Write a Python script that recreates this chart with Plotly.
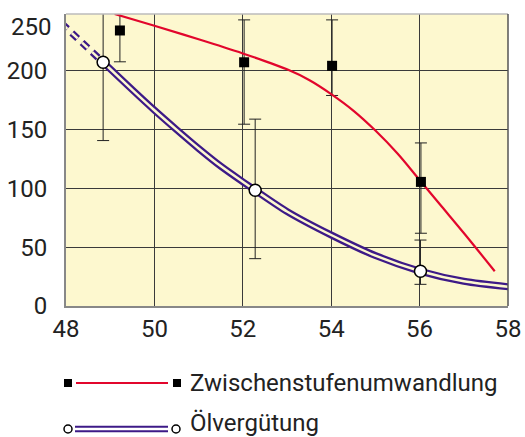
import plotly.graph_objects as go

# ---------------- data ----------------
zw_curve_x = [49.1, 50.0, 51.0, 52.0, 52.5, 53.0, 53.5, 54.0, 54.5, 55.0, 55.5, 56.0, 56.5, 57.0, 57.7]
zw_curve_y = [248, 238, 226.5, 214.5, 208, 201, 192, 180, 166, 149, 129.5, 107, 84.5, 62, 29.5]
zw_pts_x = [49.22, 52.03, 54.02, 56.03]
zw_pts_y = [234, 207, 204, 105.4]
zw_err_plus = [20, 36, 39, 33.1]
zw_err_minus = [26.6, 52.6, 25.2, 43.6]

oel_dash_x = [47.9, 48.84]
oel_dash_y = [240, 207]
oel_curve_x = [48.84, 49.5, 50.0, 50.5, 51.0, 51.5, 52.0, 52.28, 53.0, 54.0, 55.0, 56.02, 57.0, 58.1]
oel_curve_y = [207, 183.6, 166.3, 149.8, 133.8, 118.8, 105.5, 98.3, 80.3, 60.3, 42.8, 29.5, 21, 16]
oel_pts_x = [48.84, 52.28, 56.02]
oel_pts_y = [207, 98.3, 29.5]
oel_err_plus = [45, 60.4, 26.5]
oel_err_minus = [66.5, 58.1, 11.1]

x_ticks = [48, 50, 52, 54, 56, 58]
y_ticks = [0, 50, 100, 150, 200]
y_top_label = "250"
legend_names = ["Zwischenstufenumwandlung", "Ölvergütung"]

# ---------------- style ----------------
RED = "#e2062c"
PURPLE = "#3d1a87"
BG = "#fdf8cf"
GRID = "#3a3a3a"
FONT = "Roboto"
FS = 24

W, H = 525, 437
L, R, T, B = 66, 17, 14, 131
PW, PH = W - L - R, H - T - B


def px(xp):
    return (xp - L) / PW


def py(yp):
    return (H - B - yp) / PH


fig = go.Figure()

# error bars (drawn first)
fig.add_trace(go.Scatter(
    x=zw_pts_x, y=zw_pts_y, mode="markers", marker=dict(size=1, opacity=0),
    error_y=dict(type="data", symmetric=False, array=zw_err_plus, arrayminus=zw_err_minus,
                 color="#222", thickness=1, width=6), showlegend=False, hoverinfo="skip"))
fig.add_trace(go.Scatter(
    x=oel_pts_x, y=oel_pts_y, mode="markers", marker=dict(size=1, opacity=0),
    error_y=dict(type="data", symmetric=False, array=oel_err_plus, arrayminus=oel_err_minus,
                 color="#222", thickness=1, width=6), showlegend=False, hoverinfo="skip"))

# Ölvergütung double line
fig.add_trace(go.Scatter(x=oel_dash_x, y=oel_dash_y, mode="lines",
                         line=dict(color=PURPLE, width=7, dash="8px,6px"), showlegend=False))
fig.add_trace(go.Scatter(x=oel_dash_x, y=oel_dash_y, mode="lines",
                         line=dict(color=BG, width=2.5, dash="8px,6px"), showlegend=False))
fig.add_trace(go.Scatter(x=oel_curve_x, y=oel_curve_y, mode="lines",
                         line=dict(color=PURPLE, width=7, shape="spline", smoothing=0.8), showlegend=False))
fig.add_trace(go.Scatter(x=oel_curve_x, y=oel_curve_y, mode="lines",
                         line=dict(color=BG, width=2.5, shape="spline", smoothing=0.8), showlegend=False))

# Zwischenstufenumwandlung curve
fig.add_trace(go.Scatter(x=zw_curve_x, y=zw_curve_y, mode="lines",
                         line=dict(color=RED, width=2.2, shape="spline", smoothing=1.0), showlegend=False))

# markers
fig.add_trace(go.Scatter(x=zw_pts_x, y=zw_pts_y, mode="markers",
                         marker=dict(symbol="square", size=10, color="black"), showlegend=False))
fig.add_trace(go.Scatter(x=oel_pts_x, y=oel_pts_y, mode="markers",
                         marker=dict(symbol="circle", size=12, color="white",
                                     line=dict(color="black", width=1.5)), showlegend=False))

shapes = []
annotations = []

# plot frame
shapes.append(dict(type="line", xref="paper", yref="paper", x0=0, x1=1, y0=1, y1=1,
                   line=dict(color="#bbbbbb", width=1.5)))
shapes.append(dict(type="line", xref="paper", yref="paper", x0=1, x1=1, y0=0, y1=1,
                   line=dict(color="#555555", width=1.5)))

# top "250" label
annotations.append(dict(x=px(53), y=py(27), xref="paper", yref="paper", text=y_top_label,
                        showarrow=False, xanchor="right", yanchor="middle",
                        font=dict(family=FONT, size=FS, color="#222")))

# legend row 1
ly = 383
shapes.append(dict(type="rect", xref="paper", yref="paper", x0=px(64), x1=px(72), y0=py(387), y1=py(379),
                   fillcolor="black", line=dict(width=0)))
shapes.append(dict(type="line", xref="paper", yref="paper", x0=px(76), x1=px(168), y0=py(ly), y1=py(ly),
                   line=dict(color=RED, width=2)))
shapes.append(dict(type="rect", xref="paper", yref="paper", x0=px(173), x1=px(181), y0=py(387), y1=py(379),
                   fillcolor="black", line=dict(width=0)))
annotations.append(dict(x=px(188), y=py(ly), xref="paper", yref="paper", text=legend_names[0],
                        showarrow=False, xanchor="left", yanchor="middle",
                        font=dict(family=FONT, size=FS, color="#222")))
# legend row 2
ly2 = 429
shapes.append(dict(type="line", xref="paper", yref="paper", x0=px(75), x1=px(168), y0=py(ly2 - 2.2), y1=py(ly2 - 2.2),
                   line=dict(color=PURPLE, width=2)))
shapes.append(dict(type="line", xref="paper", yref="paper", x0=px(75), x1=px(168), y0=py(ly2 + 2.2), y1=py(ly2 + 2.2),
                   line=dict(color=PURPLE, width=2)))
shapes.append(dict(type="circle", xref="paper", yref="paper", x0=px(64), x1=px(72), y0=py(ly2 + 4), y1=py(ly2 - 4),
                   fillcolor="white", line=dict(color="black", width=1.5)))
shapes.append(dict(type="circle", xref="paper", yref="paper", x0=px(172), x1=px(180), y0=py(ly2 + 4), y1=py(ly2 - 4),
                   fillcolor="white", line=dict(color="black", width=1.5)))
annotations.append(dict(x=px(188), y=py(ly2 - 6), xref="paper", yref="paper", text=legend_names[1],
                        showarrow=False, xanchor="left", yanchor="middle",
                        font=dict(family=FONT, size=FS, color="#222")))

fig.update_layout(
    width=W, height=H,
    margin=dict(l=L, r=R, t=T, b=B, pad=0, autoexpand=False),
    paper_bgcolor="white", plot_bgcolor=BG,
    font=dict(family=FONT, size=FS, color="#222"),
    showlegend=False,
    shapes=shapes, annotations=annotations,
    xaxis=dict(range=[48, 58], tickvals=x_ticks, ticktext=[str(v) for v in x_ticks],
               showgrid=True, gridcolor=GRID, gridwidth=1.2, zeroline=False, automargin=False,
               showline=True, linecolor="#888", linewidth=2, ticks="", ticklabelstandoff=0),
    yaxis=dict(range=[0, 248], tickvals=y_ticks, ticktext=[str(v) for v in y_ticks],
               showgrid=True, gridcolor=GRID, gridwidth=1.2, zeroline=False, automargin=False,
               showline=True, linecolor="#888", linewidth=2, ticks="", ticklabelstandoff=12),
)

fig.write_html("out.html", config={"displayModeBar": False},
               post_script="document.body.style.margin='0';")
